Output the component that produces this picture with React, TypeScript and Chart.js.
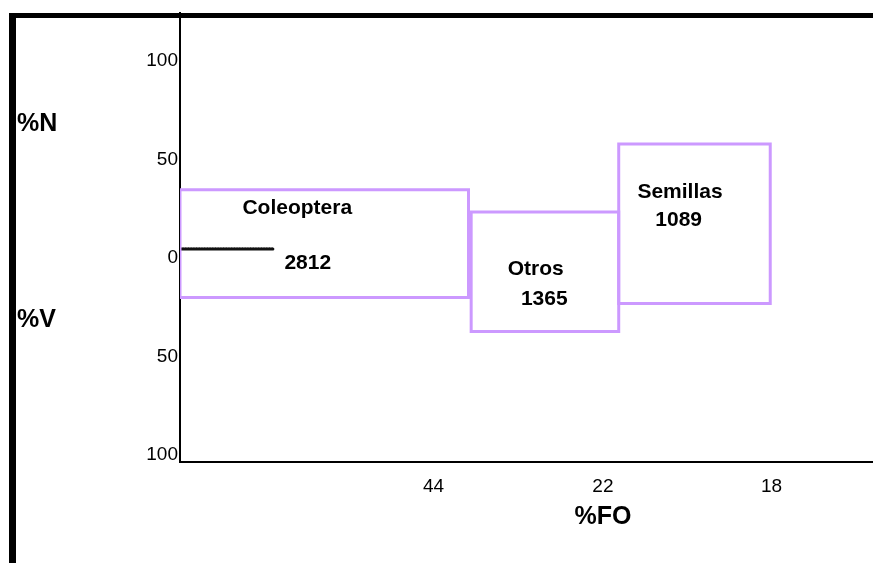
import React, { useEffect, useRef } from "react";
import { Chart, registerables } from "chart.js";

Chart.register(...registerables);

// ---- data ----
const categories = ["Coleoptera", "Otros", "Semillas"];
const counts = ["2812", "1365", "1089"];
const foStart = [0, 44.2, 66.6];
const foEnd = [43.8, 66.6, 89.6];
const pctN = [34.7, 23.5, 58];
const pctV = [20, 37.2, 23];
const foTickValues = [38.5, 64.2, 89.8];
const foTickLabels = ["44", "22", "18"];
const yTickValues = [100, 50, 0, -50, -100];
const dottedLineX = [-0.3, 14.1];
const dottedLineY = [4.7, 4.7];
// label anchors in data units
const nameLabelX = [17.8, 54.0, 75.9];
const nameLabelY = [25.6, -5.8, 33.7];
const countLabelX = [19.4, 55.3, 75.7];
const countLabelY = [-2.8, -21.0, 19.5];

const FONT = "'Liberation Sans', Arial, sans-serif";
const BOX_COLOR = "#CC99FF";

export default function App() {
  const ref = useRef<HTMLCanvasElement | null>(null);

  useEffect(() => {
    if (!ref.current) return;

    const boxDatasets = categories.map((name, i) => ({
      label: name,
      data: [
        { x: foStart[i], y: pctN[i] },
        { x: foEnd[i], y: pctN[i] },
        { x: foEnd[i], y: -pctV[i] },
        { x: foStart[i], y: -pctV[i] },
        { x: foStart[i], y: pctN[i] },
      ],
      showLine: true,
      borderColor: BOX_COLOR,
      borderWidth: 3,
      borderJoinStyle: "miter" as const,
      borderCapStyle: "square" as const,
      pointRadius: 0,
      fill: false,
      tension: 0,
    }));

    const dotted = {
      label: "dotted",
      data: dottedLineX.map((x, i) => ({ x, y: dottedLineY[i] })),
      showLine: true,
      borderColor: "#111",
      borderWidth: 3,
      borderDash: [2, 0.7],
      borderCapStyle: "round" as const,
      pointRadius: 0,
      fill: false,
    };

    const framePlugin = {
      id: "frame",
      beforeDraw(chart: any) {
        const ctx = chart.ctx;
        ctx.save();
        ctx.fillStyle = "#fff";
        ctx.fillRect(0, 0, chart.width, chart.height);
        ctx.fillStyle = "#000";
        ctx.fillRect(9, 13, chart.width - 9, 5);
        ctx.fillRect(9, 13, 7, chart.height - 13);
        ctx.restore();
      },
    };

    const labelPlugin = {
      id: "labels",
      afterDatasetsDraw(chart: any) {
        const ctx = chart.ctx;
        const xs = chart.scales.x;
        const ys = chart.scales.y;
        ctx.save();
        ctx.fillStyle = "#000";
        ctx.textAlign = "center";
        ctx.textBaseline = "middle";
        ctx.font = `bold 21px ${FONT}`;
        categories.forEach((name, i) => {
          ctx.fillText(name, xs.getPixelForValue(nameLabelX[i]), ys.getPixelForValue(nameLabelY[i]));
          ctx.fillText(counts[i], xs.getPixelForValue(countLabelX[i]), ys.getPixelForValue(countLabelY[i]));
        });
        ctx.font = `bold 25px ${FONT}`;
        ctx.textAlign = "left";
        ctx.fillText("%N", 17, ys.getPixelForValue(68));
        ctx.fillText("%V", 17, ys.getPixelForValue(-31.6));
        ctx.textAlign = "center";
        ctx.fillText("%FO", xs.getPixelForValue(foTickValues[1]), 517);
        ctx.restore();
      },
    };

    const chart = new Chart(ref.current, {
      type: "scatter",
      data: { datasets: [...boxDatasets, dotted] as any },
      options: {
        animation: false,
        responsive: false,
        maintainAspectRatio: false,
        devicePixelRatio: 1,
        layout: { padding: { top: 12, left: 0, right: 0, bottom: 0 } },
        plugins: { legend: { display: false }, tooltip: { enabled: false } },
        scales: {
          x: {
            type: "linear",
            position: "bottom",
            min: 0,
            max: 105.2,
            grid: { display: false, drawTicks: false },
            border: { display: true, color: "#000", width: 2 },
            afterBuildTicks: (scale: any) => {
              scale.ticks = foTickValues.map((v) => ({ value: v }));
            },
            afterFit: (scale: any) => {
              scale.height = 101;
            },
            ticks: {
              autoSkip: false,
              maxRotation: 0,
              padding: 13,
              color: "#000",
              font: { family: FONT, size: 19 },
              callback: (_v: any, i: number) => foTickLabels[i],
            },
          },
          y: {
            type: "linear",
            position: "left",
            min: -103.5,
            max: 124.3,
            grid: { display: false, drawTicks: false },
            border: { display: true, color: "#000", width: 2 },
            afterBuildTicks: (scale: any) => {
              scale.ticks = yTickValues.map((v) => ({ value: v }));
            },
            afterFit: (scale: any) => {
              scale.width = 180;
            },
            ticks: {
              autoSkip: false,
              padding: 2,
              color: "#000",
              font: { family: FONT, size: 19 },
              callback: (v: any) => String(Math.abs(Number(v))),
            },
          },
        },
      },
      plugins: [framePlugin, labelPlugin],
    });

    return () => chart.destroy();
  }, []);

  return (
    <div style={{ position: "fixed", left: 0, top: 0, width: 873, height: 563, background: "#fff" }}>
      <canvas ref={ref} width={873} height={563} style={{ display: "block", width: 873, height: 563 }} />
    </div>
  );
}
